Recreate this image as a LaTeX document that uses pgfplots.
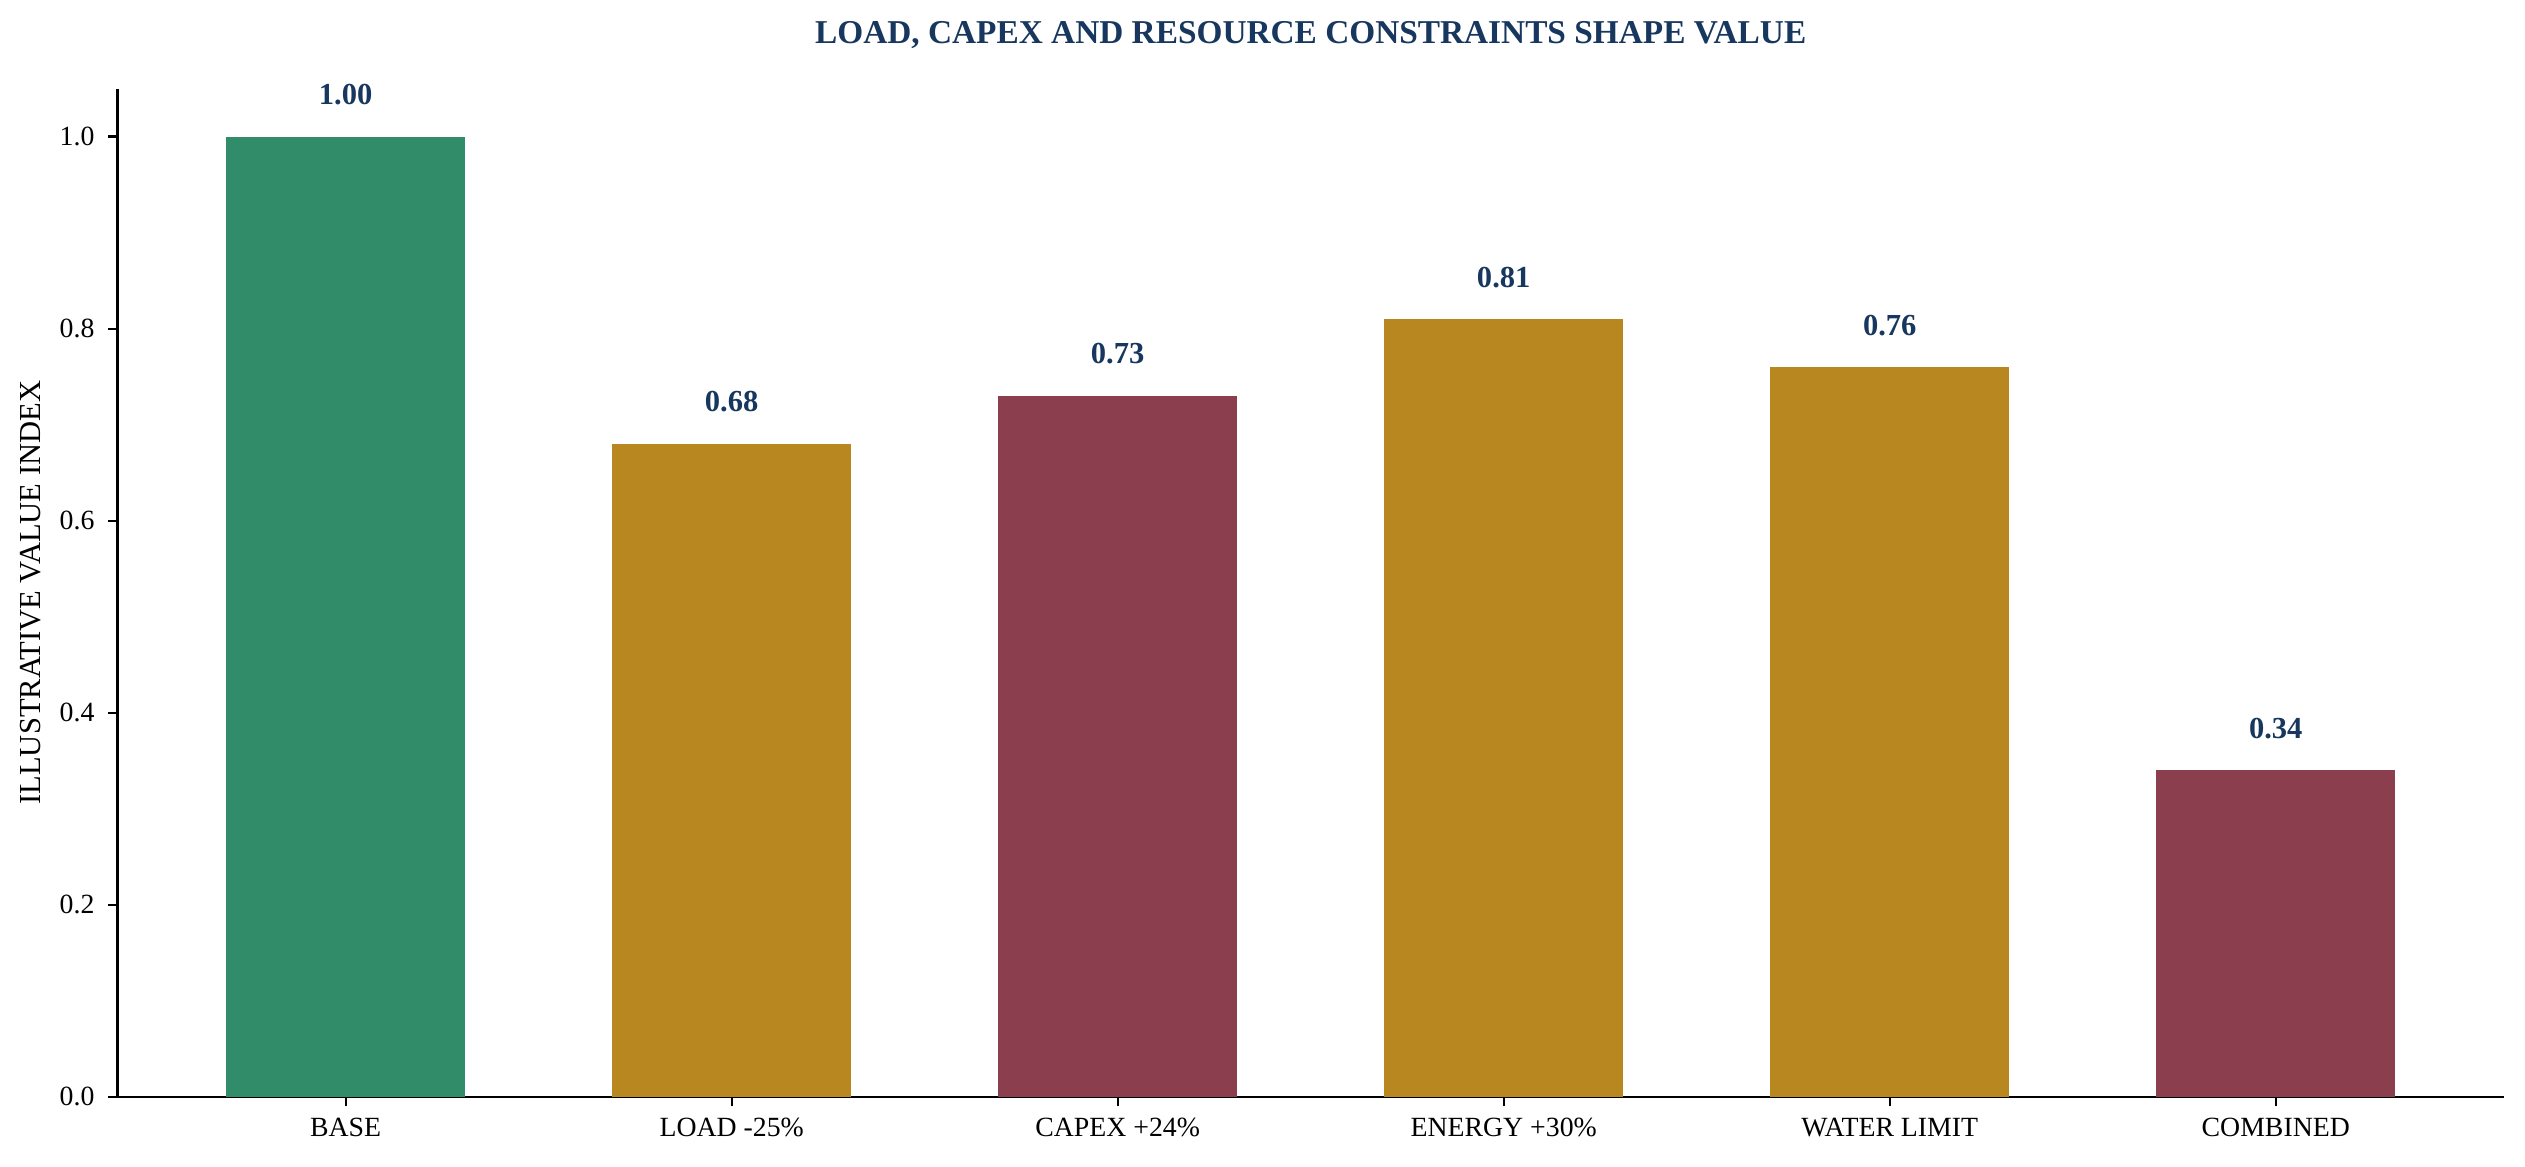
\documentclass[border=0pt]{standalone}
\usepackage{fontspec}
\setmainfont{Liberation Serif}
\usepackage{pgfplots}
\pgfplotsset{compat=1.18}
\definecolor{cgreen}{HTML}{318C6A}
\definecolor{cgold}{HTML}{B88720}
\definecolor{cmaroon}{HTML}{8B3E4D}
\definecolor{cnavy}{HTML}{17375E}
\begin{document}
\begin{tikzpicture}
\begin{axis}[
  scale only axis, width=859.1bp, height=362.9bp,
  xmin=-0.591, xmax=5.591, ymin=0, ymax=1.05,
  axis x line*=bottom, axis y line*=left,
  x axis line style={-}, y axis line style={-},
  axis line style={line width=0.8bp, black},
  xtick={0,1,2,3,4,5},
  xticklabels={BASE, LOAD -25\%, CAPEX +24\%, ENERGY +30\%, WATER LIMIT, COMBINED},
  ytick={0,0.2,0.4,0.6,0.8,1.0},
  yticklabel style={/pgf/number format/fixed, /pgf/number format/fixed zerofill, /pgf/number format/precision=1, anchor=east, inner sep=0pt, xshift=-4.6bp},
  /pgf/number format/assume math mode=true,
  tick label style={font=\fontsize{10bp}{12bp}\selectfont, text=black},
  tick align=outside, major tick length=3.5bp,
  tick style={line width=0.8bp, black},
  xticklabel style={anchor=base, inner sep=0pt, yshift=-10.8bp},
  ylabel={ILLUSTRATIVE VALUE INDEX},
  ylabel style={at={(axis description cs:-0.03644,0.5)}, anchor=center, font=\fontsize{11bp}{13bp}\selectfont},
  title={LOAD, CAPEX AND RESOURCE CONSTRAINTS SHAPE VALUE},
  title style={at={(axis description cs:0.5,1.0562)}, anchor=center, yshift=-7bp, font=\bfseries\fontsize{12bp}{14bp}\selectfont, text=cnavy},
  ybar, bar width=0.62, bar shift=0pt,
  nodes near coords,
  nodes near coords style={/pgf/number format/fixed, /pgf/number format/fixed zerofill, /pgf/number format/precision=2, anchor=center, yshift=15.1bp, font=\bfseries\fontsize{11bp}{13bp}\selectfont, text=cnavy},
]
\addplot[fill=cgreen, draw=none] coordinates {(0,1.00)};
\addplot[fill=cgold, draw=none] coordinates {(1,0.68)};
\addplot[fill=cmaroon, draw=none] coordinates {(2,0.73)};
\addplot[fill=cgold, draw=none] coordinates {(3,0.81)};
\addplot[fill=cgold, draw=none] coordinates {(4,0.76)};
\addplot[fill=cmaroon, draw=none] coordinates {(5,0.34)};
\end{axis}
\pgfresetboundingbox
\path[use as bounding box] ([xshift=-42.3bp,yshift=-25bp]current axis.south west) rectangle ([xshift=7.6bp,yshift=31.9bp]current axis.north east);
\end{tikzpicture}
\end{document}
